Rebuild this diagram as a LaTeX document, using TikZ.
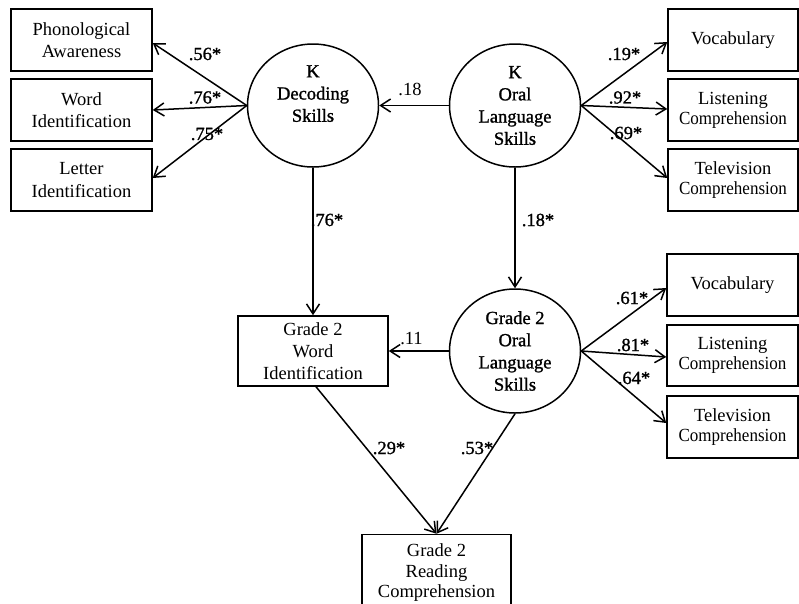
\documentclass[tikz,border=0pt]{standalone}
\usepackage{fontspec}
\setmainfont{Liberation Serif}
\newfontfamily\heavy[FakeBold=1.2]{Liberation Serif}
\usepackage{graphicx}
\usetikzlibrary{shapes.geometric,arrows.meta}
\newcommand{\cmpr}{\scalebox{0.92}[1]{Comprehension}}
\tikzset{
  box/.style={draw, line width=1.5pt, rectangle, inner sep=0pt, align=center,
    font=\fontsize{18.5}{22.3}\selectfont},
  rbox/.style={box, font=\fontsize{18.5}{20}\selectfont},
  latent/.style={draw, line width=1.5pt, ellipse, inner sep=0pt,
    minimum width=131pt, minimum height=123pt, align=center,
    font=\heavy\fontsize{18.5}{22.2}\selectfont},
  arr/.style={line width=1.5pt, -{Straight Barb[length=10pt,width=13pt,line width=1.5pt]}},
  coef/.style={inner sep=0pt, font=\fontsize{18.5}{22}\selectfont},
  sig/.style={inner sep=0pt, font=\heavy\fontsize{18.5}{22}\selectfont},
}
\begin{document}
\begin{tikzpicture}[x=1pt,y=-1pt]
\clip (0,0) rectangle (799,603);

% left indicator boxes
\node[box, minimum width=141pt, minimum height=62pt] (phon)   at (81.5,40)  {Phonological\\Awareness};
\node[box, minimum width=141pt, minimum height=62pt] (wordk)  at (81.5,110) {Word\\Identification};
\node[box, minimum width=141pt, minimum height=62pt] (letter) at (81.5,180) {Letter\\Identification};

% latent variables
\node[latent, text depth=24pt] (kdec)  at (313,105.5) {K\\Decoding\\Skills};
\node[latent] (koral) at (515,105.5) {K\\Oral\\Language\\Skills};
\node[latent, minimum height=124pt] (goral) at (515,351) {Grade 2\\Oral\\Language\\Skills};

% right indicator boxes (K)
\node[rbox, minimum width=130pt, minimum height=62pt] (vock) at (733,40)  {Vocabulary};
\node[rbox, minimum width=130pt, minimum height=62pt] (lisk) at (733,110) {Listening\\\cmpr};
\node[rbox, minimum width=130pt, minimum height=62pt] (telk) at (733,180) {Television\\\cmpr};

% right indicator boxes (Grade 2)
\node[rbox, minimum width=131pt, minimum height=62pt] (voc2) at (732.5,285)   {Vocabulary};
\node[rbox, minimum width=131pt, minimum height=61pt] (lis2) at (732.5,355.5) {Listening\\\cmpr};
\node[rbox, minimum width=131pt, minimum height=62pt] (tel2) at (732.5,427)   {Television\\\cmpr};

% observed outcomes
\node[box, minimum width=150pt, minimum height=70pt] (word2) at (313,351) {Grade 2\\Word\\Identification};
\node[box, minimum width=149pt, minimum height=77pt, font=\fontsize{18.5}{20.5}\selectfont] (read) at (436.5,573) {Grade 2\\Reading\\Comprehension};

% connectors
\draw[arr] (kdec.west) -- ([yshift=-3pt]phon.east);
\draw[arr] (kdec.west) -- (wordk.east);
\draw[arr] (kdec.west) -- ([yshift=2pt]letter.east);
\draw[arr] (koral.west) -- (kdec.east);
\draw[arr] (koral.east) -- ([yshift=-2pt]vock.west);
\draw[arr] (koral.east) -- ([yshift=1pt]lisk.west);
\draw[arr] (koral.east) -- ([yshift=2pt]telk.west);
\draw[arr] (kdec.south) -- (word2.north);
\draw[arr] (koral.south) -- (goral.north);
\draw[arr] (goral.west) -- (word2.east);
\draw[arr] (goral.east) -- ([yshift=-3pt]voc2.west);
\draw[arr] (goral.east) -- ([yshift=-1.5pt]lis2.west);
\draw[arr] (goral.east) -- ([yshift=4pt]tel2.west);
\draw[arr] ([xshift=3pt]word2.south) -- (read.north);
\draw[arr] (goral.south) -- (read.north);

% coefficients
\node[sig] (c56) at (205,54)   {.56*};
\node[sig] (c76) at (205,97.5) {.76*};
\node[sig] (c75) at (207,134)  {.75*};
\node[coef] (c18) at (410,89)  {.18};
\node[sig] (c19) at (624,54)   {.19*};
\node[sig] (c92) at (625,97.5) {.92*};
\node[sig] (c69) at (626,133)  {.69*};
\node[sig] (c76v) at (327,220) {.76*};
\node[sig] (c18v) at (538,220) {.18*};
\node[coef] (c11) at (411.5,339) {.11};
\node[sig] (c61) at (632,298)  {.61*};
\node[sig] (c81) at (633,345)  {.81*};
\node[sig] (c64) at (634,378)  {.64*};
\node[sig] (c29) at (389,448)  {.29*};
\node[sig] (c53) at (477,448)  {.53*};
\end{tikzpicture}
\end{document}
